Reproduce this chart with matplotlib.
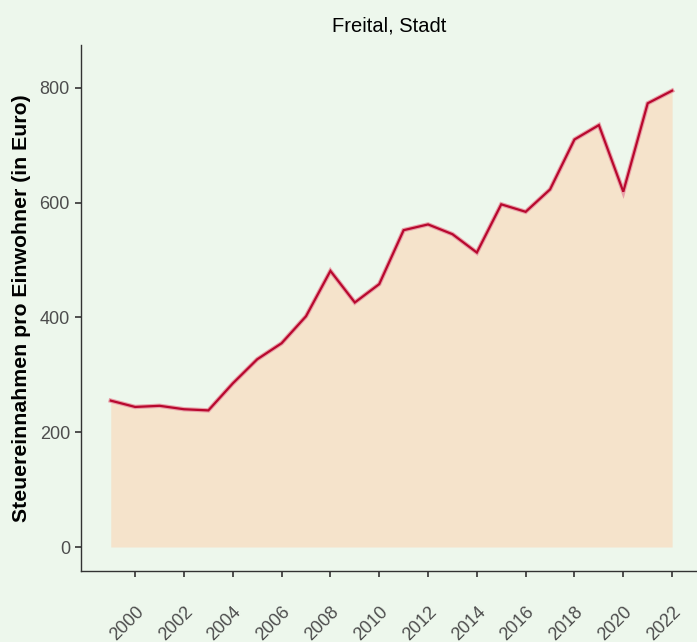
import matplotlib
matplotlib.use("Agg")
import matplotlib.pyplot as plt

years = list(range(1999, 2023))
values = [255, 244, 246, 240, 238, 285, 327, 355, 402, 481, 426, 458,
          552, 562, 545, 513, 597, 584, 623, 710, 735, 619, 773, 795]
x_ticks = list(range(2000, 2023, 2))
y_ticks = [0, 200, 400, 600, 800]

plt.rcParams["font.family"] = ["Liberation Sans", "DejaVu Sans"]

bg = "#EDF7EC"
fig = plt.figure(figsize=(6.97, 6.42), dpi=100, facecolor=bg)
ax = fig.add_axes([0.1162, 0.1106, 0.8838, 0.8193], facecolor=bg)

ax.fill_between(years, values, 0, color="#F5E3CB", linewidth=0)
ax.plot(years, values, color="#E8A0A8", linewidth=3.2, solid_joinstyle="miter")
ax.plot(years, values, color="#B8082E", linewidth=1.6, solid_joinstyle="miter")

ax.set_xlim(1997.78, 2023.02)
ax.set_ylim(-41.8, 874.6)
ax.set_xticks(x_ticks)
ax.set_xticklabels([str(t) for t in x_ticks], rotation=45, ha="right",
                   rotation_mode="anchor")
ax.set_yticks(y_ticks)

for side in ["top", "right"]:
    ax.spines[side].set_visible(False)
for side in ["left", "bottom"]:
    ax.spines[side].set_color("#333333")
    ax.spines[side].set_linewidth(1.0)

ax.tick_params(axis="x", direction="out", length=4, width=1.2, color="#333333",
               labelsize=13, labelcolor="#4D4D4D", pad=19)
ax.tick_params(axis="y", direction="out", length=4, width=1.2, color="#333333",
               labelsize=13, labelcolor="#4D4D4D", pad=4)

ax.set_ylabel("Steuereinnahmen pro Einwohner (in Euro)", fontsize=15.3,
              fontweight="bold", labelpad=6)
ax.set_title("Freital, Stadt", fontsize=14.5, pad=10)

fig.savefig("out.png", dpi=100, facecolor=bg)
